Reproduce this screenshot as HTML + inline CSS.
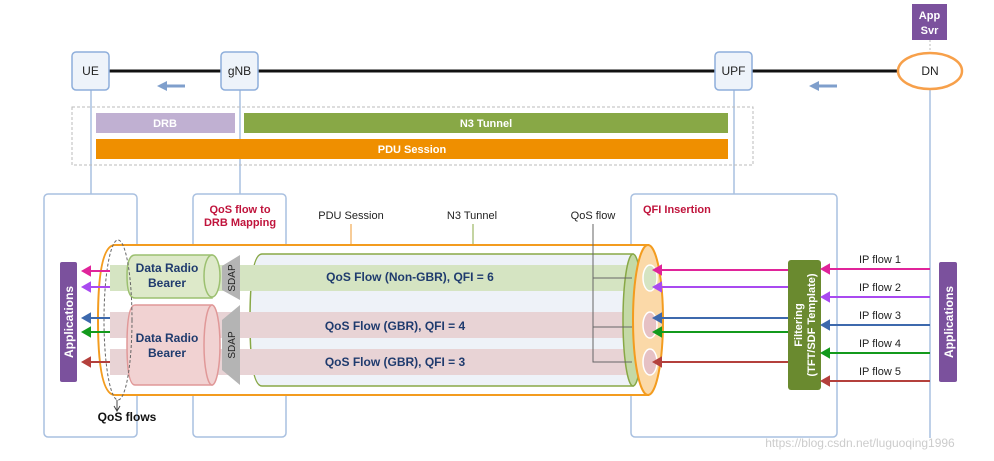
<!DOCTYPE html>
<html><head><meta charset="utf-8"><style>
html,body{margin:0;padding:0;background:#fff}
svg{display:block;font-family:"Liberation Sans",sans-serif}
</style></head><body>
<svg width="994" height="461" viewBox="0 0 994 461" xmlns="http://www.w3.org/2000/svg">
<!-- top line -->
<line x1="100" y1="71" x2="905" y2="71" stroke="#111" stroke-width="3"/>
<g stroke="#a9c0e0" stroke-width="1.5">
<line x1="91" y1="90" x2="91" y2="194"/><line x1="240" y1="90" x2="240" y2="194"/>
<line x1="734" y1="90" x2="734" y2="194"/><line x1="930" y1="89" x2="930" y2="438"/>
</g>
<line x1="930" y1="40" x2="930" y2="53" stroke="#bbb" stroke-dasharray="2,2"/>
<rect x="912" y="4" width="35" height="36" fill="#7b519d"/>
<text x="929.5" y="19" font-size="11" font-weight="bold" fill="#fff" text-anchor="middle">App</text>
<text x="929.5" y="34" font-size="11" font-weight="bold" fill="#fff" text-anchor="middle">Svr</text>
<g fill="#eef3fa" stroke="#8eaedb" stroke-width="1.5">
<rect x="72" y="52" width="37" height="38" rx="4"/><rect x="221" y="52" width="37" height="38" rx="4"/><rect x="715" y="52" width="37" height="38" rx="4"/>
</g>
<ellipse cx="930" cy="71" rx="32" ry="18" fill="#fff" stroke="#f7a04a" stroke-width="2.5"/>
<g font-size="12" fill="#222" text-anchor="middle">
<text x="90.5" y="75">UE</text><text x="239.5" y="75">gNB</text><text x="733.5" y="75">UPF</text><text x="930" y="75">DN</text>
</g>
<g stroke="#7f9fcc" stroke-width="3" fill="#7f9fcc">
<line x1="185" y1="86" x2="166" y2="86"/><path d="M157,86 L167,81 L167,91z" stroke="none"/>
<line x1="837" y1="86" x2="818" y2="86"/><path d="M809,86 L819,81 L819,91z" stroke="none"/>
</g>
<rect x="72" y="107" width="681" height="58" fill="none" stroke="#bbb" stroke-dasharray="3,2"/>
<rect x="96" y="113" width="139" height="20" fill="#c0b0d2"/>
<rect x="244" y="113" width="484" height="20" fill="#88a846"/>
<rect x="96" y="139" width="632" height="20" fill="#ef8f00"/>
<g font-size="11" font-weight="bold" fill="#fff" text-anchor="middle">
<text x="165" y="127">DRB</text><text x="486" y="127">N3 Tunnel</text><text x="412" y="153">PDU Session</text>
</g>
<g fill="none" stroke="#a9c0e0" stroke-width="1.5">
<rect x="44" y="194" width="93" height="243" rx="4"/><rect x="193" y="194" width="93" height="243" rx="4"/><rect x="631" y="194" width="206" height="243" rx="4"/>
</g>
<text x="240" y="213" font-size="11" font-weight="bold" fill="#c0143c" text-anchor="middle">QoS flow to</text>
<text x="240" y="226" font-size="11" font-weight="bold" fill="#c0143c" text-anchor="middle">DRB Mapping</text>
<text x="643" y="213" font-size="11" font-weight="bold" fill="#c0143c">QFI Insertion</text>
<g font-size="11" fill="#222" text-anchor="middle"><text x="351" y="219">PDU Session</text><text x="472" y="219">N3 Tunnel</text><text x="593" y="219">QoS flow</text></g>
<line x1="351" y1="224" x2="351" y2="245" stroke="#ef9a30"/>
<line x1="473" y1="224" x2="473" y2="254" stroke="#88a846"/>
<path d="M115,245 L648,245 L648,395 L115,395 Q98,395 98,320 Q98,245 115,245 z" fill="#fff" stroke="#f39c1f" stroke-width="2"/>
<path d="M262,254 L633,254 L633,386 L262,386 Q250,386 250,320 Q250,254 262,254 z" fill="#eef2f8" stroke="#88a846" stroke-width="1.5"/>
<rect x="110" y="265" width="530" height="26" fill="#d5e4c2"/>
<rect x="110" y="312" width="530" height="26" fill="#e8d3d5"/>
<rect x="110" y="349" width="530" height="26" fill="#e8d3d5"/>
<ellipse cx="633" cy="320" rx="10" ry="66" fill="#c4d9a6" stroke="#88a846" stroke-width="1.5"/>
<ellipse cx="648" cy="320" rx="15" ry="75" fill="#fbd9a8" stroke="#f39c1f" stroke-width="2"/>
<g stroke="#fff" stroke-width="1.5"><ellipse cx="650" cy="278" rx="7" ry="13" fill="#d5e4c2"/><ellipse cx="650" cy="325" rx="7" ry="13" fill="#e6c1c4"/><ellipse cx="650" cy="362" rx="7" ry="13" fill="#e6c1c4"/></g>
<g font-size="12" font-weight="bold" fill="#1f3b6e" text-anchor="middle">
<text x="410" y="281">QoS Flow (Non-GBR), QFI = 6</text><text x="395" y="330">QoS Flow (GBR), QFI = 4</text><text x="395" y="366">QoS Flow (GBR), QFI = 3</text>
</g>
<path d="M593,224 L593,362 L632,362 M593,278 L632,278 M593,327 L632,327" fill="none" stroke="#666" stroke-width="1"/>
<path d="M135,255 L212,255 L212,298 L135,298 Q127,298 127,276 Q127,255 135,255 z" fill="#dde9c9" stroke="#9cc070" stroke-width="1.5"/>
<ellipse cx="212" cy="276" rx="8" ry="21" fill="#dde9c9" stroke="#9cc070" stroke-width="1.5"/>
<path d="M135,305 L212,305 L212,385 L135,385 Q127,385 127,345 Q127,305 135,305 z" fill="#f1d2d2" stroke="#e09898" stroke-width="1.5"/>
<ellipse cx="212" cy="345" rx="8" ry="40" fill="#f1d2d2" stroke="#e09898" stroke-width="1.5"/>
<g font-size="12" font-weight="bold" fill="#1f3b6e" text-anchor="middle">
<text x="167" y="272">Data Radio</text><text x="167" y="287">Bearer</text><text x="167" y="342">Data Radio</text><text x="167" y="357">Bearer</text>
</g>
<polygon points="222,266 240,255 240,300 222,290" fill="#b4b4b4"/>
<polygon points="222,320 240,305 240,385 222,370" fill="#b4b4b4"/>
<text transform="translate(235,278) rotate(-90)" font-size="10" fill="#222" text-anchor="middle">SDAP</text>
<text transform="translate(235,345) rotate(-90)" font-size="10" fill="#222" text-anchor="middle">SDAP</text>
<ellipse cx="118" cy="320" rx="14" ry="80" fill="none" stroke="#666" stroke-dasharray="3,2"/>
<line x1="117" y1="400" x2="117" y2="410" stroke="#444"/><path d="M114,406 L117,411 L120,406" fill="none" stroke="#444"/>
<text x="127" y="421" font-size="12" font-weight="bold" fill="#111" text-anchor="middle">QoS flows</text>
<rect x="60" y="262" width="17" height="120" rx="2" fill="#7b519d"/>
<rect x="939" y="262" width="18" height="120" rx="2" fill="#7b519d"/>
<text transform="translate(73,322) rotate(-90)" font-size="12" font-weight="bold" fill="#fff" text-anchor="middle">Applications</text>
<text transform="translate(953,322) rotate(-90)" font-size="12" font-weight="bold" fill="#fff" text-anchor="middle">Applications</text>
<rect x="788" y="260" width="33" height="130" rx="3" fill="#6a8a2f"/>
<text transform="translate(802,325) rotate(-90)" font-size="11" font-weight="bold" fill="#fff" text-anchor="middle">Filtering</text>
<text transform="translate(815,325) rotate(-90)" font-size="11" font-weight="bold" fill="#fff" text-anchor="middle">(TFT/SDF Template)</text>
<g stroke-width="2">
<g stroke="#e0249a" fill="#e0249a"><line x1="110" y1="271" x2="88" y2="271"/><path d="M83,271 L90,267 L90,275z"/><line x1="788" y1="270" x2="660" y2="270"/><path d="M654,270 L661,266 L661,274z"/><line x1="930" y1="269" x2="828" y2="269"/><path d="M822,269 L829,265 L829,273z"/></g>
<g stroke="#a94af0" fill="#a94af0"><line x1="110" y1="287" x2="88" y2="287"/><path d="M83,287 L90,283 L90,291z"/><line x1="788" y1="287" x2="660" y2="287"/><path d="M654,287 L661,283 L661,291z"/><line x1="930" y1="297" x2="828" y2="297"/><path d="M822,297 L829,293 L829,301z"/></g>
<g stroke="#3d69ad" fill="#3d69ad"><line x1="110" y1="318" x2="88" y2="318"/><path d="M83,318 L90,314 L90,322z"/><line x1="788" y1="318" x2="660" y2="318"/><path d="M654,318 L661,314 L661,322z"/><line x1="930" y1="325" x2="828" y2="325"/><path d="M822,325 L829,321 L829,329z"/></g>
<g stroke="#139a1c" fill="#139a1c"><line x1="110" y1="332" x2="88" y2="332"/><path d="M83,332 L90,328 L90,336z"/><line x1="788" y1="332" x2="660" y2="332"/><path d="M654,332 L661,328 L661,336z"/><line x1="930" y1="353" x2="828" y2="353"/><path d="M822,353 L829,349 L829,357z"/></g>
<g stroke="#b4403c" fill="#b4403c"><line x1="110" y1="362" x2="88" y2="362"/><path d="M83,362 L90,358 L90,366z"/><line x1="788" y1="362" x2="660" y2="362"/><path d="M654,362 L661,358 L661,366z"/><line x1="930" y1="381" x2="828" y2="381"/><path d="M822,381 L829,377 L829,385z"/></g>
</g>
<g font-size="11" fill="#222" text-anchor="middle">
<text x="880" y="263">IP flow 1</text><text x="880" y="291">IP flow 2</text><text x="880" y="319">IP flow 3</text><text x="880" y="347">IP flow 4</text><text x="880" y="375">IP flow 5</text>
</g>
<text x="860" y="447" font-size="12" fill="#ccc" text-anchor="middle">https://blog.csdn.net/luguoqing1996</text>
</svg>
</body></html>
